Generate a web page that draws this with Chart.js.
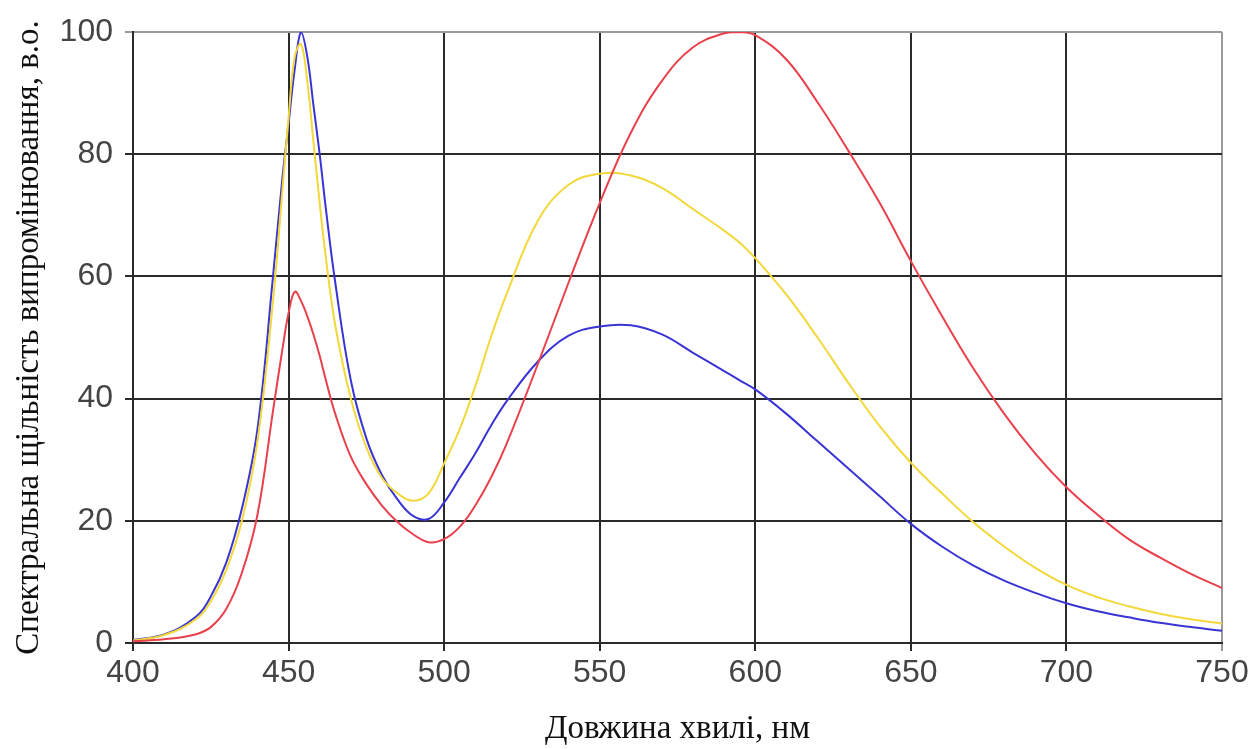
<!DOCTYPE html>
<html lang="uk">
<head>
<meta charset="utf-8">
<title>Спектральна щільність випромінювання</title>
<script src="https://cdn.jsdelivr.net/npm/chart.js@4.4.1/dist/chart.umd.min.js"></script>
<style>
    html, body { margin: 0; padding: 0; background: #fff; }
    #wrap { width: 1257px; height: 749px; }
</style>
</head>
<body>
<div id="wrap"><canvas id="spectrumChart" width="1257" height="749"></canvas></div>
<script>
// Довжини хвиль, нм (спільна сітка для всіх кривих)
const wavelengths = [400, 410, 420, 425, 430, 435, 440, 445, 448, 450, 452, 454, 456, 458, 460, 462, 465, 470, 475, 480, 485, 490, 495, 500, 505, 510, 515, 520, 530, 540, 550, 560, 570, 580, 590, 595, 600, 610, 620, 630, 640, 650, 660, 670, 680, 690, 700, 710, 720, 730, 740, 750];

// Спектри, в.о.
const redSpectrum = [0.3, 0.6, 1.4, 2.6, 5.6, 11.5, 21, 38, 48, 54, 57.5, 56, 53.5, 50.5, 47, 43, 37.5, 30.5, 26, 22.5, 19.8, 17.8, 16.5, 17, 19, 22.5, 27, 32.5, 45.5, 59, 72, 83.5, 92, 97.5, 99.8, 100, 99.5, 95.5, 88.5, 80.5, 72, 62.5, 53.5, 45, 37.5, 31, 25.5, 21, 17, 14, 11.3, 9];
const yellowSpectrum = [0.4, 1.3, 3.8, 6.8, 12, 20, 33, 56, 74, 86, 96, 98, 92, 82, 72, 63, 52, 40, 32, 27, 24.5, 23.3, 24.5, 29.4, 35, 42, 50, 57, 69, 75, 76.8, 76.5, 74.5, 71, 67.5, 65.5, 63, 57, 50, 42.5, 35.5, 29.5, 24.5, 19.8, 15.8, 12.3, 9.5, 7.5, 6, 4.8, 3.9, 3.2];
const blueSpectrum = [0.5, 1.4, 4.2, 7.6, 13.2, 22, 35, 60, 76, 85, 94, 100, 96, 88, 80, 71, 59, 43, 33.5, 27.5, 23.5, 20.8, 20.3, 23, 27, 31, 35.5, 39.5, 46, 50.3, 51.8, 52, 50.5, 47.5, 44.5, 43, 41.5, 37.5, 33, 28.5, 24, 19.5, 15.8, 12.7, 10.2, 8.2, 6.5, 5.2, 4.2, 3.3, 2.6, 2];

// Підписи осей
const xTitle = 'Довжина хвилі, нм';
const yTitle = 'Спектральна щільність випромінювання, в.о.';

function toPoints(values) {
    return wavelengths.map((x, i) => ({ x: x, y: values[i] }));
}

function curve(values, color) {
    return {
        data: toPoints(values),
        borderColor: color,
        borderWidth: 2,
        pointRadius: 0,
        fill: false,
        tension: 0.4
    };
}

const tickFont = { family: "'Liberation Sans', Arial, sans-serif", size: 32 };
const titleFont = { family: "'Liberation Serif', 'Times New Roman', serif", size: 33 };

const ctx = document.getElementById('spectrumChart').getContext('2d');
new Chart(ctx, {
    type: 'line',
    data: {
        datasets: [
            curve(redSpectrum, '#e8414b'),
            curve(yellowSpectrum, '#f2d83a'),
            curve(blueSpectrum, '#3a35d2')
        ]
    },
    options: {
        responsive: false,
        animation: false,
        layout: { padding: { top: 32, right: 35, left: 0, bottom: 0 } },
        plugins: { legend: { display: false }, tooltip: { enabled: false } },
        scales: {
            x: {
                type: 'linear',
                min: 400,
                max: 750,
                ticks: { stepSize: 50, color: '#444', font: tickFont, padding: 3 },
                grid: {
                    color: c => c.tick && c.tick.value === 750 ? '#9a9a9a' : '#2a2a2a',
                    lineWidth: 2,
                    tickLength: 8
                },
                border: { color: '#2a2a2a', width: 2 },
                title: { display: true, text: xTitle, color: '#111', font: titleFont, padding: { top: 0, bottom: 0 } },
                afterFit: s => { s.height = 106; }
            },
            y: {
                min: 0,
                max: 100,
                ticks: { stepSize: 20, color: '#444', font: tickFont, padding: 12 },
                grid: {
                    color: c => c.tick && c.tick.value === 100 ? '#9a9a9a' : '#2a2a2a',
                    lineWidth: 2,
                    tickLength: 8
                },
                border: { color: '#2a2a2a', width: 2 },
                title: { display: true, text: yTitle, color: '#111', font: titleFont, padding: { top: 10, bottom: 0 } },
                afterFit: s => { s.width = 133; }
            }
        }
    }
});
</script>
</body>
</html>
